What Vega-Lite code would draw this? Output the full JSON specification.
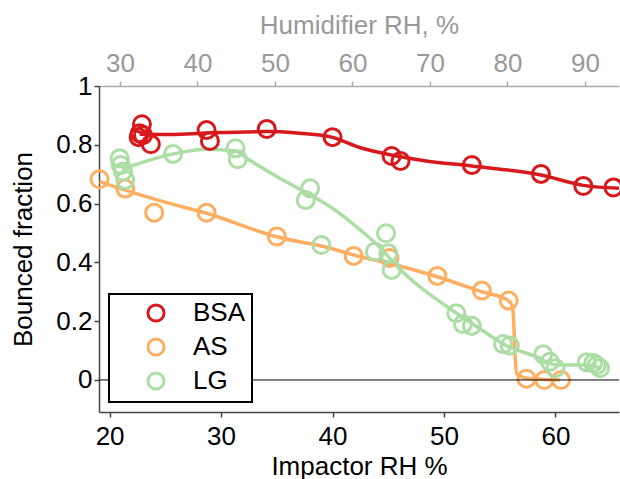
{
  "$schema": "https://vega.github.io/schema/vega-lite/v6.json",
  "width": 520,
  "height": 326,
  "autosize": {"type": "none"},
  "padding": {"left": 99, "top": 86, "right": 1, "bottom": 67},
  "config": {
    "font": "Liberation Sans",
    "view": {"stroke": null},
    "axis": {"grid": false},
    "legend": {"orient": "none", "legendX": 10, "legendY": 208, "title": null,
               "labelFontSize": 26, "labelColor": "black", "symbolType": "circle", "symbolSize": 260,
               "symbolStrokeWidth": 3, "symbolFillColor": "white", "padding": 6, "rowPadding": 4,
               "symbolOffset": 28, "labelOffset": 24, "strokeColor": "black", "strokeWidth": 2, "fillColor": "white"}
  },
  "datasets": {
    "points": [
      {"series": "BSA", "rh": 22.9, "frac": 0.870},
      {"series": "BSA", "rh": 22.7, "frac": 0.839},
      {"series": "BSA", "rh": 22.6, "frac": 0.826},
      {"series": "BSA", "rh": 23.0, "frac": 0.833},
      {"series": "BSA", "rh": 23.7, "frac": 0.802},
      {"series": "BSA", "rh": 28.7, "frac": 0.850},
      {"series": "BSA", "rh": 29.0, "frac": 0.813},
      {"series": "BSA", "rh": 34.1, "frac": 0.854},
      {"series": "BSA", "rh": 40.0, "frac": 0.826},
      {"series": "BSA", "rh": 45.3, "frac": 0.762},
      {"series": "BSA", "rh": 46.1, "frac": 0.745},
      {"series": "BSA", "rh": 52.5, "frac": 0.731},
      {"series": "BSA", "rh": 58.7, "frac": 0.701},
      {"series": "BSA", "rh": 62.5, "frac": 0.660},
      {"series": "BSA", "rh": 65.2, "frac": 0.655},
      {"series": "AS", "rh": 19.1, "frac": 0.683},
      {"series": "AS", "rh": 21.4, "frac": 0.651},
      {"series": "AS", "rh": 24.0, "frac": 0.569},
      {"series": "AS", "rh": 28.7, "frac": 0.569},
      {"series": "AS", "rh": 35.0, "frac": 0.488},
      {"series": "AS", "rh": 41.9, "frac": 0.422},
      {"series": "AS", "rh": 45.1, "frac": 0.415},
      {"series": "AS", "rh": 49.4, "frac": 0.354},
      {"series": "AS", "rh": 53.4, "frac": 0.304},
      {"series": "AS", "rh": 55.8, "frac": 0.270},
      {"series": "AS", "rh": 57.4, "frac": 0.004},
      {"series": "AS", "rh": 59.0, "frac": 0.0},
      {"series": "AS", "rh": 60.5, "frac": 0.0},
      {"series": "LG", "rh": 20.9, "frac": 0.754},
      {"series": "LG", "rh": 21.0, "frac": 0.731},
      {"series": "LG", "rh": 21.2, "frac": 0.709},
      {"series": "LG", "rh": 21.4, "frac": 0.680},
      {"series": "LG", "rh": 25.7, "frac": 0.769},
      {"series": "LG", "rh": 31.3, "frac": 0.788},
      {"series": "LG", "rh": 31.5, "frac": 0.751},
      {"series": "LG", "rh": 38.0, "frac": 0.652},
      {"series": "LG", "rh": 37.6, "frac": 0.612},
      {"series": "LG", "rh": 39.0, "frac": 0.459},
      {"series": "LG", "rh": 44.8, "frac": 0.499},
      {"series": "LG", "rh": 43.8, "frac": 0.436},
      {"series": "LG", "rh": 45.0, "frac": 0.431},
      {"series": "LG", "rh": 45.3, "frac": 0.374},
      {"series": "LG", "rh": 51.1, "frac": 0.227},
      {"series": "LG", "rh": 51.7, "frac": 0.190},
      {"series": "LG", "rh": 52.5, "frac": 0.184},
      {"series": "LG", "rh": 55.3, "frac": 0.122},
      {"series": "LG", "rh": 55.9, "frac": 0.117},
      {"series": "LG", "rh": 58.9, "frac": 0.087},
      {"series": "LG", "rh": 59.5, "frac": 0.062},
      {"series": "LG", "rh": 60.0, "frac": 0.040},
      {"series": "LG", "rh": 62.8, "frac": 0.060},
      {"series": "LG", "rh": 63.4, "frac": 0.058},
      {"series": "LG", "rh": 63.7, "frac": 0.050},
      {"series": "LG", "rh": 64.0, "frac": 0.040}
    ],
    "fits": [
      {"series": "BSA", "rh": 22.7, "frac": 0.836},
      {"series": "BSA", "rh": 25.5, "frac": 0.835},
      {"series": "BSA", "rh": 28.7, "frac": 0.840},
      {"series": "BSA", "rh": 34.1, "frac": 0.845},
      {"series": "BSA", "rh": 36.8, "frac": 0.840},
      {"series": "BSA", "rh": 39.9, "frac": 0.826},
      {"series": "BSA", "rh": 42.5, "frac": 0.790},
      {"series": "BSA", "rh": 45.3, "frac": 0.765},
      {"series": "BSA", "rh": 48.4, "frac": 0.745},
      {"series": "BSA", "rh": 52.5, "frac": 0.728},
      {"series": "BSA", "rh": 58.7, "frac": 0.697},
      {"series": "BSA", "rh": 62.5, "frac": 0.662},
      {"series": "BSA", "rh": 65.7, "frac": 0.652},
      {"series": "AS", "rh": 19.1, "frac": 0.675},
      {"series": "AS", "rh": 21.4, "frac": 0.646},
      {"series": "AS", "rh": 24.5, "frac": 0.610},
      {"series": "AS", "rh": 28.7, "frac": 0.567},
      {"series": "AS", "rh": 35.0, "frac": 0.487},
      {"series": "AS", "rh": 39.8, "frac": 0.448},
      {"series": "AS", "rh": 41.9, "frac": 0.425},
      {"series": "AS", "rh": 45.7, "frac": 0.391},
      {"series": "AS", "rh": 49.4, "frac": 0.351},
      {"series": "AS", "rh": 53.4, "frac": 0.300},
      {"series": "AS", "rh": 55.7, "frac": 0.272},
      {"series": "AS", "rh": 56.15, "frac": 0.249},
      {"series": "AS", "rh": 56.5, "frac": 0.023},
      {"series": "AS", "rh": 57.4, "frac": 0.006},
      {"series": "AS", "rh": 60.4, "frac": 0.0},
      {"series": "LG", "rh": 21.1, "frac": 0.716},
      {"series": "LG", "rh": 22.7, "frac": 0.737},
      {"series": "LG", "rh": 25.7, "frac": 0.769},
      {"series": "LG", "rh": 28.7, "frac": 0.785},
      {"series": "LG", "rh": 31.3, "frac": 0.779},
      {"series": "LG", "rh": 32.3, "frac": 0.754},
      {"series": "LG", "rh": 35.0, "frac": 0.692},
      {"series": "LG", "rh": 38.0, "frac": 0.629},
      {"series": "LG", "rh": 39.8, "frac": 0.589},
      {"series": "LG", "rh": 42.5, "frac": 0.510},
      {"series": "LG", "rh": 44.2, "frac": 0.453},
      {"series": "LG", "rh": 45.7, "frac": 0.390},
      {"series": "LG", "rh": 47.1, "frac": 0.340},
      {"series": "LG", "rh": 50.7, "frac": 0.238},
      {"series": "LG", "rh": 53.0, "frac": 0.180},
      {"series": "LG", "rh": 55.6, "frac": 0.117},
      {"series": "LG", "rh": 58.3, "frac": 0.079},
      {"series": "LG", "rh": 60.1, "frac": 0.051},
      {"series": "LG", "rh": 62.5, "frac": 0.051},
      {"series": "LG", "rh": 64.0, "frac": 0.042}
    ]
  },
  "layer": [
    {
      "layer": [
        {
          "data": {"name": "fits"},
          "mark": {"type": "line", "interpolate": "monotone", "strokeWidth": 3.5},
          "encoding": {
            "x": {"field": "rh", "type": "quantitative",
                  "scale": {"domain": [19.05, 65.7], "nice": false, "zero": false},
                  "axis": {"orient": "bottom", "values": [20, 30, 40, 50, 60], "title": "Impactor RH %",
                           "labelFontSize": 26, "titleFontSize": 26, "titleFontWeight": "normal",
                           "labelColor": "black", "titleColor": "black", "domainColor": "#444", "tickColor": "#444",
                           "domainWidth": 1.5, "tickWidth": 1.5, "tickSize": 5, "labelPadding": 6, "titlePadding": 4, "labelFlush": false}},
            "y": {"field": "frac", "type": "quantitative",
                  "scale": {"domain": [-0.109, 1], "nice": false, "zero": false},
                  "axis": {"values": [0, 0.2, 0.4, 0.6, 0.8, 1], "format": "~g", "title": "Bounced fraction",
                           "labelFontSize": 26, "titleFontSize": 26, "titleFontWeight": "normal",
                           "labelColor": "black", "titleColor": "black", "domainColor": "#444", "tickColor": "#444",
                           "domainWidth": 1.5, "tickWidth": 1.5, "tickSize": 5, "labelPadding": 2, "titlePadding": 19, "labelFlush": false}},
            "color": {"field": "series", "type": "nominal",
                      "scale": {"domain": ["BSA", "AS", "LG"], "range": ["#d7191c", "#fdae61", "#abdda4"]}}
          }
        },
        {
          "data": {"name": "points"},
          "mark": {"type": "point", "shape": "circle", "filled": false, "strokeWidth": 3, "size": 290, "opacity": 1},
          "encoding": {
            "x": {"field": "rh", "type": "quantitative",
                  "scale": {"domain": [19.05, 65.7], "nice": false, "zero": false},
                  "axis": {"orient": "bottom", "values": [20, 30, 40, 50, 60], "title": "Impactor RH %",
                           "labelFontSize": 26, "titleFontSize": 26, "titleFontWeight": "normal",
                           "labelColor": "black", "titleColor": "black", "domainColor": "#444", "tickColor": "#444",
                           "domainWidth": 1.5, "tickWidth": 1.5, "tickSize": 5, "labelPadding": 6, "titlePadding": 4, "labelFlush": false}},
            "y": {"field": "frac", "type": "quantitative",
                  "scale": {"domain": [-0.109, 1], "nice": false, "zero": false},
                  "axis": {"values": [0, 0.2, 0.4, 0.6, 0.8, 1], "format": "~g", "title": "Bounced fraction",
                           "labelFontSize": 26, "titleFontSize": 26, "titleFontWeight": "normal",
                           "labelColor": "black", "titleColor": "black", "domainColor": "#444", "tickColor": "#444",
                           "domainWidth": 1.5, "tickWidth": 1.5, "tickSize": 5, "labelPadding": 2, "titlePadding": 19, "labelFlush": false}},
            "color": {"field": "series", "type": "nominal",
                      "scale": {"domain": ["BSA", "AS", "LG"], "range": ["#d7191c", "#fdae61", "#abdda4"]}}
          }
        }
      ]
    },
    {
      "data": {"values": [{}]},
      "mark": {"type": "rule", "color": "black", "strokeWidth": 1},
      "encoding": {
        "y": {"datum": 0, "type": "quantitative",
              "scale": {"domain": [-0.109, 1], "nice": false, "zero": false},
              "axis": {"values": [0, 0.2, 0.4, 0.6, 0.8, 1], "format": "~g", "title": "Bounced fraction",
                       "labelFontSize": 26, "titleFontSize": 26, "titleFontWeight": "normal",
                       "labelColor": "black", "titleColor": "black", "domainColor": "#444", "tickColor": "#444",
                       "domainWidth": 1.5, "tickWidth": 1.5, "tickSize": 5, "labelPadding": 2, "titlePadding": 19, "labelFlush": false}}
      }
    },
    {
      "data": {"values": [{}]},
      "mark": {"type": "point", "opacity": 0},
      "encoding": {
        "x": {"datum": 30, "type": "quantitative",
              "scale": {"domain": [27.3, 94.4], "nice": false, "zero": false},
              "axis": {"orient": "top", "values": [30, 40, 50, 60, 70, 80, 90], "title": "Humidifier RH, %",
                       "labelFontSize": 26, "titleFontSize": 26, "titleFontWeight": "normal",
                       "labelColor": "#999999", "titleColor": "#999999", "domainColor": "#aaaaaa", "tickColor": "#aaaaaa",
                       "domainWidth": 1.5, "tickWidth": 1.5, "tickSize": 5, "labelPadding": 5, "titlePadding": 12, "labelFlush": false}}
      }
    }
  ],
  "resolve": {"scale": {"x": "independent"}, "axis": {"x": "independent"}}
}
